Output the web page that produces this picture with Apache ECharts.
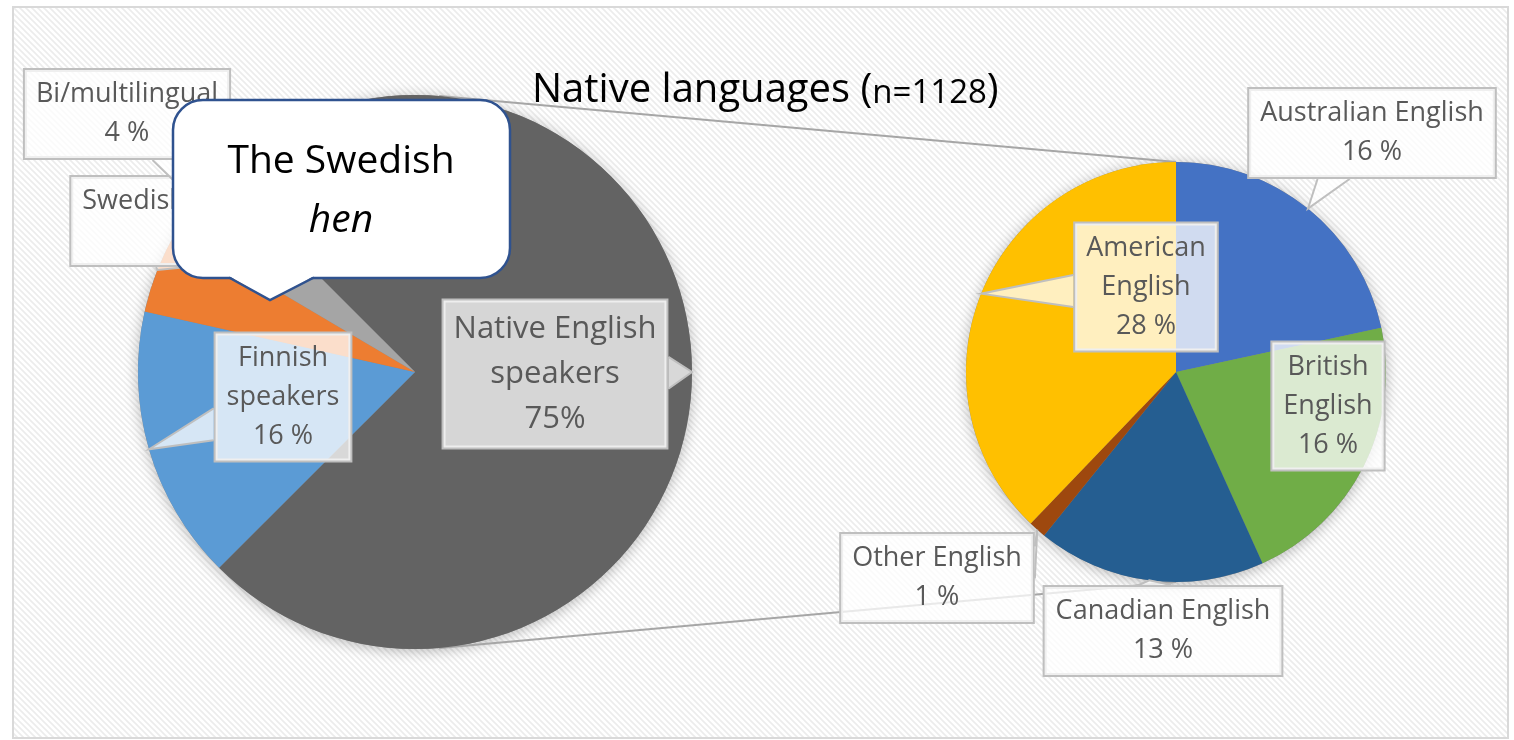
<!DOCTYPE html>
<html><head><meta charset="utf-8">
<script src="https://cdn.jsdelivr.net/npm/echarts@6/dist/echarts.min.js"></script>
<style>html,body{margin:0;padding:0;background:#fff}#c{width:1514px;height:740px}</style>
</head><body><div id="c"></div>
<script>
// ---------- data ----------
const titleMain = 'Native languages';
const titleSample = 'n=1128';
const mainCategories = ['Native English\nspeakers', 'Finnish\nspeakers', 'Swedish speakers', 'Bi/multilingual'];
const mainValues = [75, 16, 5, 4];
const englishCategories = ['Australian English', 'British\nEnglish', 'Canadian English', 'Other English', 'American\nEnglish'];
const englishValues = [16, 16, 13, 1, 28];
const calloutLines = ['The Swedish', 'hen'];

// ---------- layout / style ----------
const FONT = '"Open Sans", Lato, sans-serif';
const L = {cx: 415, cy: 372, r: 277, start: 135};
const R = {cx: 1176, cy: 372, r: 210, start: 90};
const mainColors = ['#636363', '#5b9bd5', '#ed7d31', '#a5a5a5'];
const engColors = ['#4472c4', '#70ad47', '#255e91', '#9e480e', '#ffc000'];
const mainLabelCenters = [[555, 374], [283, 397], [194, 221], [127, 114]];
const engLabelCenters = [[1372, 133], [1328, 406], [1163, 631], [937, 578], [1146, 287]];

function midPoint(geo, values, i) {
  const total = values.reduce((a, b) => a + b, 0);
  let cum = 0;
  for (let k = 0; k < i; k++) cum += values[k];
  const mid = (geo.start - (cum + values[i] / 2) * 360 / total) * Math.PI / 180;
  return [geo.cx + geo.r * Math.cos(mid), geo.cy - geo.r * Math.sin(mid)];
}
function edgePoint(geo, deg) {
  const a = deg * Math.PI / 180;
  return [geo.cx + geo.r * Math.cos(a), geo.cy - geo.r * Math.sin(a)];
}
const clamp = (v, a, b) => Math.min(Math.max(v, a), b);

// hatch pattern
const pc = document.createElement('canvas');
pc.width = 6; pc.height = 6;
const g = pc.getContext('2d');
g.fillStyle = '#ffffff'; g.fillRect(0, 0, 6, 6);
g.strokeStyle = '#ececec'; g.lineWidth = 1.6;
g.beginPath();
g.moveTo(-1, -1); g.lineTo(7, 7);
g.moveTo(-4, 2); g.lineTo(4, 10);
g.moveTo(2, -4); g.lineTo(10, 4);
g.stroke();

const baseLabel = {
  show: true, position: 'outside', color: '#595959', fontFamily: FONT,
  fontSize: 27, lineHeight: 39, align: 'center', overflow: 'none',
  backgroundColor: 'rgba(255,255,255,0.75)', borderColor: '#bfbfbf', borderWidth: 2,
  padding: [5, 11]
};

const mainData = mainCategories.map((n, i) => {
  const d = {name: n, value: mainValues[i], itemStyle: {color: mainColors[i]}};
  if (i === 0) d.label = {fontSize: 31, lineHeight: 45, padding: [6, 10], backgroundColor: 'rgba(255,255,255,0.74)'};
  return d;
});
const engData = englishCategories.map((n, i) => ({name: n, value: englishValues[i], itemStyle: {color: engColors[i]}}));

// callout wedges computed while laying out labels
const wedges = {};
function makeLayout(key, geo, values, centers) {
  return function (params) {
    const i = params.dataIndex;
    const c = centers[i];
    const w = params.labelRect.width, h = params.labelRect.height;
    const tip = midPoint(geo, values, i);
    const bx0 = c[0] - w / 2, bx1 = c[0] + w / 2, by0 = c[1] - h / 2, by1 = c[1] + h / 2;
    const ox = tip[0] < bx0 ? bx0 - tip[0] : (tip[0] > bx1 ? tip[0] - bx1 : 0);
    const oy = tip[1] < by0 ? by0 - tip[1] : (tip[1] > by1 ? tip[1] - by1 : 0);
    const half = 16, m = 4;
    let pts = null;
    if (ox > 0 || oy > 0) {
      if (ox >= oy) {
        const x = tip[0] < bx0 ? bx0 : bx1;
        let cy = clamp(tip[1], by0 + half + m, by1 - half - m);
        cy = cy + (c[1] - cy) * 0.4;
        pts = [[x, cy - half], tip, [x, cy + half]];
      } else {
        const y = tip[1] < by0 ? by0 : by1;
        let cx = clamp(tip[0], bx0 + half + m, bx1 - half - m);
        cx = cx + (c[0] - cx) * 0.4;
        pts = [[cx - half, y], tip, [cx + half, y]];
      }
    }
    wedges[key + i] = pts;
    return {x: c[0], y: c[1], align: 'center', verticalAlign: 'middle'};
  };
}

const lt = edgePoint(L, 85), lb = edgePoint(L, -85);
const rt = edgePoint(R, 90), rb = edgePoint(R, -90);

const chart = echarts.init(document.getElementById('c'), null, {renderer: 'canvas'});
chart.setOption({
  animation: false,
  backgroundColor: '#ffffff',
  title: {
    text: '{a|' + titleMain + ' (}{b|' + titleSample + '}{a|)}',
    left: 527, top: 66,
    textStyle: {
      fontWeight: 'normal',
      rich: {
        a: {fontFamily: FONT, fontSize: 40, fontWeight: 'normal', color: '#000', verticalAlign: 'bottom'},
        b: {fontFamily: FONT, fontSize: 33, fontWeight: 'normal', color: '#000', verticalAlign: 'bottom', padding: [0, 0, 1, 0]}
      }
    }
  },
  graphic: [
    {id: 'frame', type: 'rect', z: 0, shape: {x: 13, y: 7, width: 1495, height: 731},
      style: {fill: {image: pc, repeat: 'repeat'}, stroke: '#d9d9d9', lineWidth: 2}},
    {id: 'shL', type: 'circle', z: 1, shape: {cx: L.cx, cy: L.cy, r: L.r},
      style: {fill: '#888', shadowBlur: 14, shadowColor: 'rgba(0,0,0,0.28)', shadowOffsetY: 2}},
    {id: 'shR', type: 'circle', z: 1, shape: {cx: R.cx, cy: R.cy, r: R.r},
      style: {fill: '#888', shadowBlur: 14, shadowColor: 'rgba(0,0,0,0.28)', shadowOffsetY: 2}},
    {id: 'conTop', type: 'line', z: 1, shape: {x1: lt[0], y1: lt[1], x2: rt[0], y2: rt[1]},
      style: {stroke: '#a6a6a6', lineWidth: 2}},
    {id: 'conBot', type: 'line', z: 1, shape: {x1: lb[0], y1: lb[1], x2: rb[0], y2: rb[1]},
      style: {stroke: '#a6a6a6', lineWidth: 2}},
    // speech bubble
    {id: 'bub', type: 'rect', z: 100, shape: {x: 173, y: 100, width: 337, height: 178, r: 30},
      style: {fill: '#ffffff', stroke: '#2f528f', lineWidth: 2.5}},
    {id: 'bubP', type: 'polygon', z: 101, shape: {points: [[229, 276], [270, 300], [314, 276]]},
      style: {fill: '#ffffff'}},
    {id: 'bubL', type: 'polyline', z: 102, shape: {points: [[229, 277.5], [270, 300], [314, 277.5]]},
      style: {stroke: '#2f528f', lineWidth: 2.5, fill: null}},
    {id: 'bubT1', type: 'text', z: 103, x: 341, y: 162,
      style: {text: calloutLines[0], font: '39px ' + FONT, fill: '#000', align: 'center', verticalAlign: 'middle'}},
    {id: 'bubT2', type: 'text', z: 103, x: 341, y: 221,
      style: {text: calloutLines[1], font: 'italic 39px ' + FONT, fill: '#000', align: 'center', verticalAlign: 'middle'}}
  ],
  series: [
    {
      type: 'pie', center: [L.cx, L.cy], radius: [0, L.r], startAngle: L.start, clockwise: true,
      avoidLabelOverlap: false, silent: true, data: mainData,
      label: Object.assign({}, baseLabel, {
        formatter: p => p.name + '\n' + p.value + (p.dataIndex === 0 ? '%' : ' %')
      }),
      labelLine: {show: false},
      labelLayout: makeLayout('m', L, mainValues, mainLabelCenters)
    },
    {
      type: 'pie', center: [R.cx, R.cy], radius: [0, R.r], startAngle: R.start, clockwise: true,
      avoidLabelOverlap: false, silent: true, data: engData,
      label: Object.assign({}, baseLabel, {formatter: p => p.name + '\n' + p.value + ' %'}),
      labelLine: {show: false},
      labelLayout: makeLayout('e', R, englishValues, engLabelCenters)
    }
  ]
});

// add callout wedges (pointer shapes) from the computed label geometry
const extra = [];
Object.keys(wedges).forEach(k => {
  const p = wedges[k];
  if (!p) return;
  extra.push({id: 'wf' + k, type: 'polygon', z: 3, shape: {points: p},
    style: {fill: 'rgba(255,255,255,0.75)'}});
  extra.push({id: 'wl' + k, type: 'polyline', z: 3, shape: {points: p},
    style: {stroke: '#bfbfbf', lineWidth: 2, fill: null}});
});
chart.setOption({graphic: extra});
</script>
</body></html>
